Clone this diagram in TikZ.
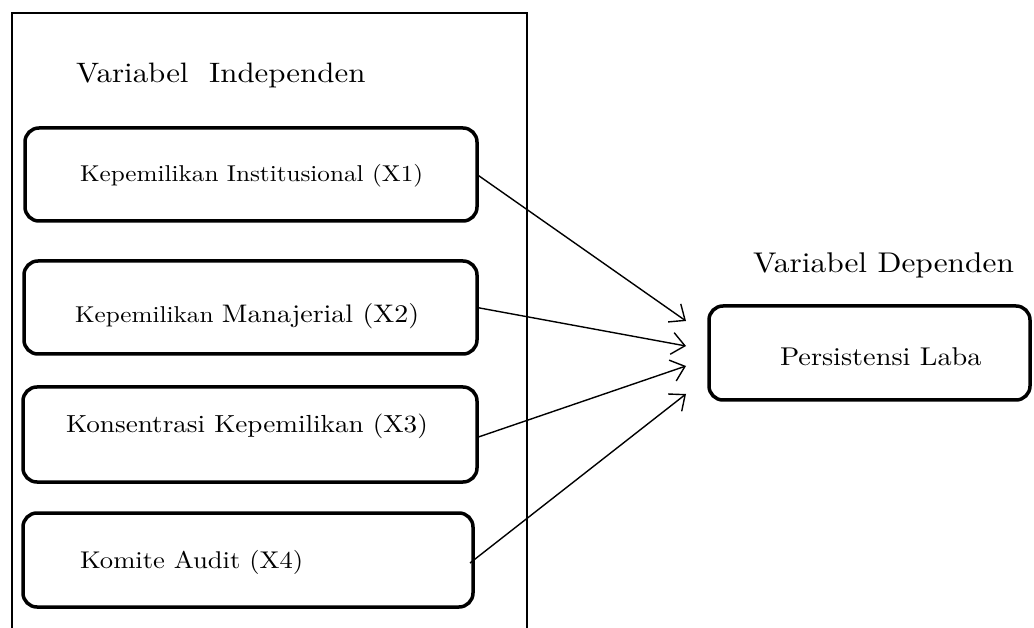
\documentclass[tikz,border=0pt]{standalone}
\usepackage{fontspec}
\setmainfont{lmroman10-regular}[Extension=.otf, FakeStretch=1.1]
\usetikzlibrary{arrows.meta}
\tikzset{
  box/.style={draw, line width=3.5pt, rounded corners=14pt, inner sep=0pt, outer sep=0pt},
  lbl/.style={anchor=base west, inner sep=0pt, outer sep=0pt},
  arr/.style={line width=1.4pt, -{Straight Barb[length=13pt, width=22pt, line width=1.4pt]}},
  frame/.style={line width=1.3pt}
}
\begin{document}
\begin{tikzpicture}[x=1pt, y=-1pt]
\useasboundingbox (0,0) rectangle (1034,628);
% outer frame (open at the bottom)
\draw[frame] (12,628) -- (12,13) -- (527,13) -- (527,628);
% titles
\node[lbl] (ti) at (76,83) {\fontsize{28.1}{33}\selectfont Variabel~~Independen};
\node[lbl] (td) at (753,273) {\fontsize{28.5}{33}\selectfont Variabel Dependen};
% boxes
\node[box, minimum width=452pt, minimum height=93pt] (b1) at (251,174.5) {};
\node[box, minimum width=453pt, minimum height=93pt] (b2) at (250.5,307.5) {};
\node[box, minimum width=454pt, minimum height=95pt] (b3) at (250,434.5) {};
\node[box, minimum width=450pt, minimum height=94pt] (b4) at (248,560) {};
\node[box, minimum width=321pt, minimum height=94pt] (y) at (869.5,353) {};
% labels
\node[lbl] (l1) at (80,182) {\fontsize{22.9}{27}\selectfont Kepemilikan Institusional (X1)};
\node[lbl] (l2) at (75,323) {{\fontsize{22.9}{27}\selectfont Kepemilikan }{\fontsize{25.4}{30}\selectfont Manajerial (X2)}};
\node[lbl] (l3) at (66,432) {\fontsize{24.7}{29}\selectfont Konsentrasi Kepemilikan (X3)};
\node[lbl] (l4) at (80,568) {\fontsize{24.2}{29}\selectfont Komite Audit (X4)};
\node[lbl] (ly) at (780,366) {\fontsize{25.7}{30}\selectfont Persistensi Laba};
% arrow ends
\coordinate (t1) at (686,321);
\coordinate (t2) at (686,346);
\coordinate (t3) at (686,366);
\coordinate (t4) at (686,394);
% arrows
\draw[arr] (b1.east) -- (t1);
\draw[arr] (b2.east) -- (t2);
\draw[arr] ([yshift=-3pt]b3.east) -- (t3);
\draw[arr] ([xshift=-3pt,yshift=-3pt]b4.east) -- (t4);
\end{tikzpicture}
\end{document}
